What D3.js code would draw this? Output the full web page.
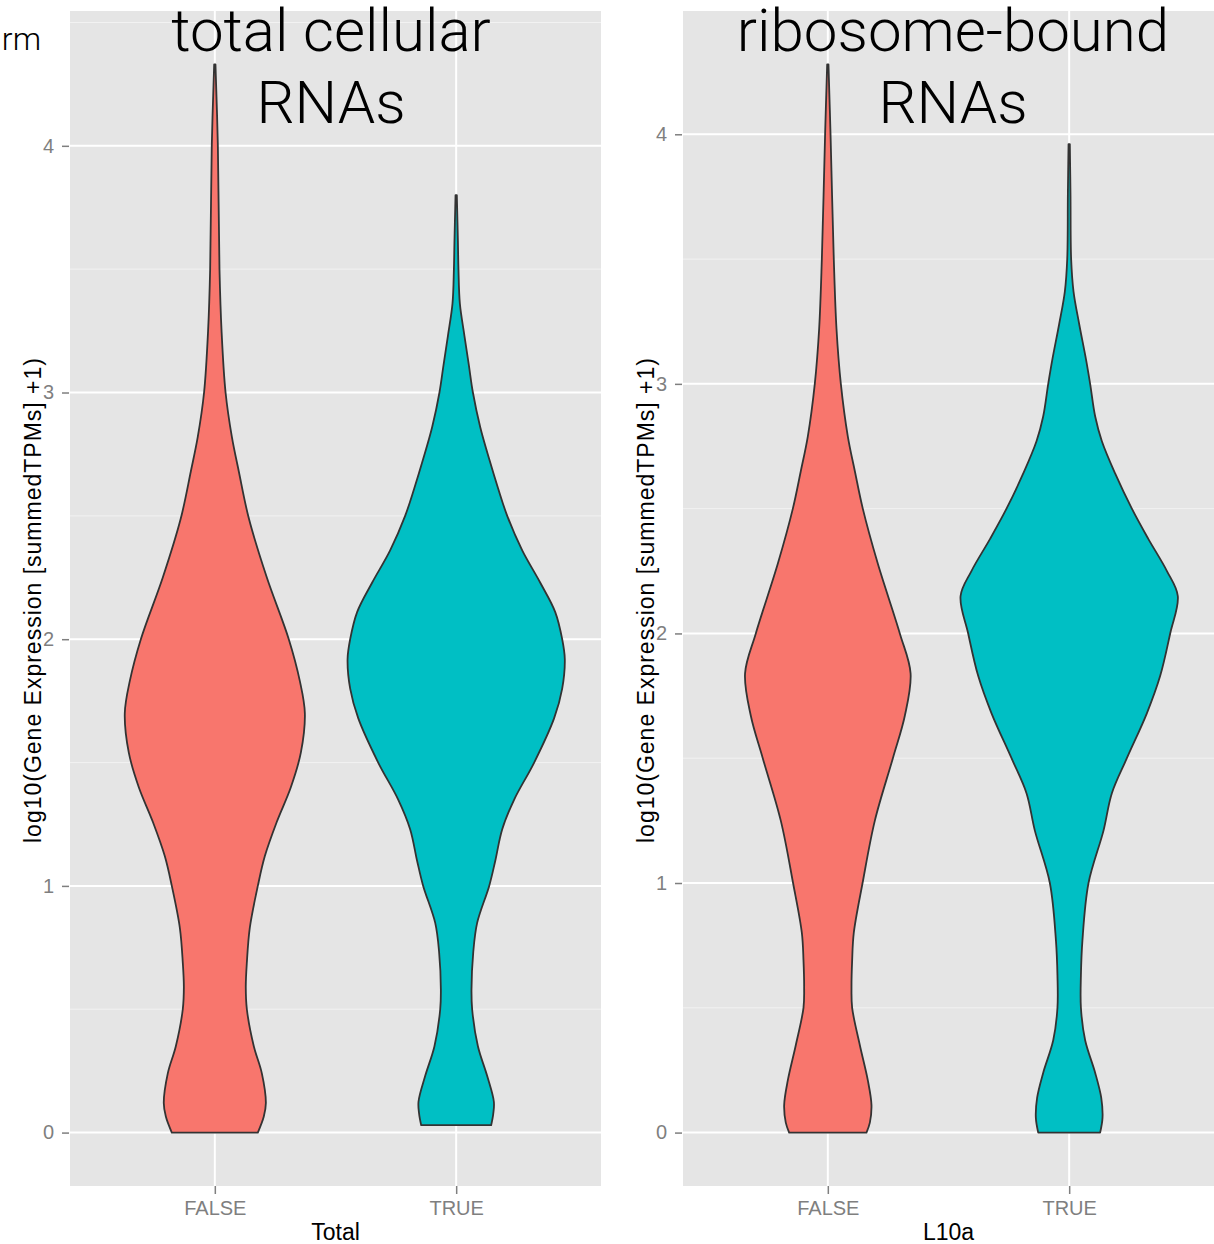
<!DOCTYPE html>
<html lang="en">
<head>
	<meta charset="utf-8">
	<title>Violin plots - total vs ribosome-bound RNAs</title>
	<script src="https://d3js.org/d3.v7.min.js"></script>
	<style>
		body { margin: 0; background: #fff; }
		text { font-family: "Liberation Sans", Arial, sans-serif; }
		.title { font-family: Roboto, "Open Sans", sans-serif; font-weight: 300; }
	</style>
</head>
<body>
<svg width="1214" height="1244"></svg>
<script>

	// categories
	var groups = ["FALSE", "TRUE"];
	var colors = ["#F8766D", "#00BFC4"];

	// violin outlines: [log10 expression, relative width]
	// (width 1 = widest violin of the panel)
	var totalFalse = [[0,0.396],[0.065,0.451],[0.12,0.47],[0.24,0.433],[0.35,0.359],[0.5,0.295],[0.59,0.285],
		[0.69,0.295],[0.83,0.322],[1.0,0.396],[1.12,0.46],[1.26,0.571],[1.4,0.7],[1.54,0.792],[1.7,0.829],
		[1.83,0.783],[2.0,0.681],[2.25,0.479],[2.49,0.313],[2.68,0.221],[2.82,0.157],[3.0,0.099],[3.25,0.062],
		[3.5,0.043],[4.0,0.028],[4.33,0.006]];
	var totalTrue = [[0.03,0.322],[0.075,0.341],[0.125,0.347],[0.23,0.285],[0.35,0.2],[0.5,0.147],[0.58,0.141],
		[0.73,0.157],[0.85,0.193],[1.0,0.304],[1.1,0.359],[1.23,0.424],[1.35,0.534],[1.5,0.718],[1.68,0.902],
		[1.8,0.976],[1.92,1.0],[2.0,0.976],[2.11,0.912],[2.23,0.773],[2.36,0.608],[2.5,0.47],[2.61,0.387],
		[2.73,0.304],[2.86,0.221],[3.0,0.154],[3.11,0.117],[3.23,0.076],[3.36,0.034],[3.5,0.021],[3.61,0.016],[3.8,0.006]];
	var l10aFalse = [[0,0.356],[0.04,0.387],[0.11,0.402],[0.21,0.368],[0.35,0.295],[0.5,0.224],[0.58,0.218],
		[0.69,0.224],[0.8,0.239],[1.0,0.32],[1.25,0.433],[1.5,0.599],[1.67,0.709],[1.84,0.762],[2.0,0.663],
		[2.28,0.46],[2.5,0.322],[2.65,0.249],[2.79,0.184],[3.0,0.12],[3.22,0.08],[3.5,0.055],[4.0,0.025],[4.28,0.006]];
	var l10aTrue = [[0,0.285],[0.06,0.307],[0.14,0.295],[0.24,0.239],[0.37,0.147],[0.5,0.108],[0.63,0.108],
		[0.77,0.122],[1.0,0.178],[1.21,0.316],[1.36,0.393],[1.5,0.531],[1.68,0.715],[1.83,0.838],[2.0,0.93],
		[2.15,1.0],[2.25,0.9],[2.38,0.727],[2.5,0.577],[2.64,0.424],[2.77,0.301],[2.87,0.239],[3.0,0.193],
		[3.1,0.154],[3.24,0.092],[3.37,0.04],[3.5,0.018],[3.76,0.012],[3.96,0.006]];

	var yTicks = [0, 1, 2, 3, 4];
	var yMinor = [0.5, 1.5, 2.5, 3.5, 4.5];
	var yTitle = "log10(Gene Expression [summedTPMs] +1)";

	var panels = [
		{ title: ["total cellular", "RNAs"], xTitle: "Total", violins: [totalFalse, totalTrue], left: 70, right: 601, titleX: 331 },
		{ title: ["ribosome-bound", "RNAs"], xTitle: "L10a", violins: [l10aFalse, l10aTrue], left: 683, right: 1214, titleX: 953 }
	];

	var svg = d3.select("svg");
	var plotTop = 11, plotBottom = 1186;

	panels.forEach(function(p) {
		var g = svg.append("g");
		var all = d3.merge(p.violins);
		var lo = d3.min(all, function(d) { return d[0]; }),
			hi = d3.max(all, function(d) { return d[0]; }),
			pad = (hi - lo) * 0.05;

		var y = d3.scaleLinear().domain([lo - pad, hi + pad]).range([plotBottom, plotTop]);
		var x = d3.scalePoint().domain(groups).range([p.left, p.right]).padding(0.6);
		var halfMax = x.step() * 0.45;

		// panel background + grid
		g.append("rect").attr("x", p.left).attr("y", plotTop)
			.attr("width", p.right - p.left).attr("height", plotBottom - plotTop).attr("fill", "#e5e5e5");

		g.selectAll(".minor").data(yMinor.filter(function(v) { return y(v) > plotTop; }))
			.enter().append("line")
			.attr("x1", p.left).attr("x2", p.right)
			.attr("y1", function(d) { return y(d); }).attr("y2", function(d) { return y(d); })
			.attr("stroke", "#f2f2f2").attr("stroke-width", 1);

		g.selectAll(".major").data(yTicks)
			.enter().append("line")
			.attr("x1", p.left).attr("x2", p.right)
			.attr("y1", function(d) { return y(d); }).attr("y2", function(d) { return y(d); })
			.attr("stroke", "#fff").attr("stroke-width", 2);

		g.selectAll(".vmajor").data(groups)
			.enter().append("line")
			.attr("x1", function(d) { return x(d); }).attr("x2", function(d) { return x(d); })
			.attr("y1", plotTop).attr("y2", plotBottom)
			.attr("stroke", "#fff").attr("stroke-width", 2);

		// violins
		p.violins.forEach(function(v, i) {
			var cx = x(groups[i]);
			var area = d3.area()
				.curve(d3.curveCatmullRom)
				.y(function(d) { return y(d[0]); })
				.x0(function(d) { return cx - d[1] * halfMax; })
				.x1(function(d) { return cx + d[1] * halfMax; });
			g.append("path")
				.datum(v)
				.attr("d", area)
				.attr("fill", colors[i])
				.attr("stroke", "#333")
				.attr("stroke-width", 1.8)
				.attr("stroke-linejoin", "round");
		});

		// axes
		var yAxis = d3.axisLeft(y).tickValues(yTicks).tickFormat(d3.format("d")).tickSize(7).tickPadding(8);
		var ya = g.append("g").attr("transform", "translate(" + (p.left - 1) + ",0)").call(yAxis);
		var xAxis = d3.axisBottom(x).tickSize(8).tickPadding(7);
		var xa = g.append("g").attr("transform", "translate(0," + plotBottom + ")").call(xAxis);
		[ya, xa].forEach(function(a) {
			a.select(".domain").remove();
			a.selectAll(".tick line").attr("stroke", "#7f7f7f").attr("stroke-width", 1.5);
			a.selectAll(".tick text").attr("fill", "#7f7f7f").style("font-size", "20px");
		});

		// axis titles
		g.append("text")
			.attr("transform", "translate(" + (p.left - 29.5) + ",600.5) rotate(-90)")
			.attr("text-anchor", "middle")
			.attr("textLength", 485)
			.attr("lengthAdjust", "spacing")
			.style("font-size", "23px")
			.text(yTitle);

		g.append("text")
			.attr("x", (p.left + p.right) / 2).attr("y", 1240)
			.attr("text-anchor", "middle")
			.style("font-size", "23px")
			.text(p.xTitle);

		// big title in the panel
		g.selectAll(".title").data(p.title)
			.enter().append("text")
			.attr("class", "title")
			.attr("x", p.titleX)
			.attr("y", function(d, i) { return 51 + i * 72; })
			.attr("text-anchor", "middle")
			.style("font-size", "60px")
			.text(function(d) { return d; });
	});

	// clipped word at the top-left corner
	svg.append("text").attr("class", "title")
		.attr("x", 41).attr("y", 50)
		.attr("text-anchor", "end")
		.style("font-size", "32px")
		.text("rm");

</script>
</body>
</html>
